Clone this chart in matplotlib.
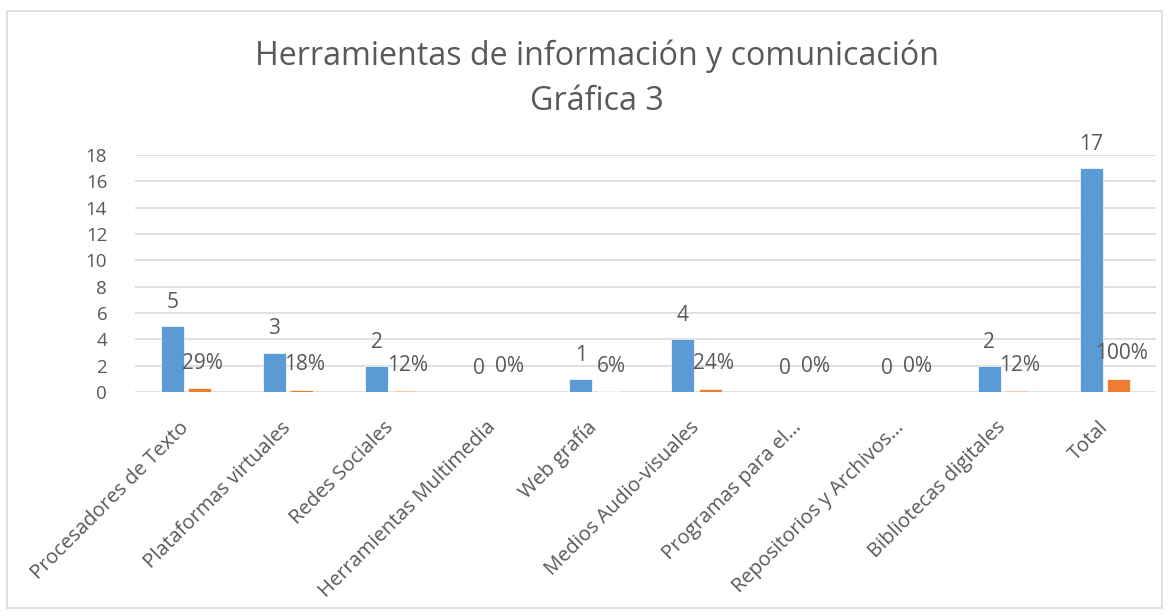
import matplotlib.pyplot as plt
from matplotlib.patches import Rectangle
import numpy as np

categories = ["Procesadores de Texto", "Plataformas virtuales", "Redes Sociales",
              "Herramientas Multimedia", "Web grafía", "Medios Audio-visuales",
              "Programas para el…", "Repositorios y Archivos…",
              "Bibliotecas digitales", "Total"]
counts = [5, 3, 2, 0, 1, 4, 0, 0, 2, 17]
shares = [0.29, 0.18, 0.12, 0.0, 0.06, 0.24, 0.0, 0.0, 0.12, 1.0]
share_labels = ["29%", "18%", "12%", "0%", "6%", "24%", "0%", "0%", "12%", "100%"]

blue = "#5B9BD5"
orange = "#ED7D31"
light_orange = "#F8CBAD"
share_colors = [orange, orange, light_orange, orange, light_orange, orange,
                orange, orange, light_orange, orange]
text_col = "#595959"

plt.rcParams['font.family'] = ['Open Sans', 'DejaVu Sans']

fig = plt.figure(figsize=(11.72, 6.16), dpi=100)
fig.patches.append(Rectangle((7 / 1172, 8 / 616), 1155 / 1172, 597 / 616,
                             transform=fig.transFigure, fill=False,
                             edgecolor="#d9d9d9", linewidth=1.2))
ax = fig.add_axes([135 / 1172, (616 - 392) / 616, 1021 / 1172, 237 / 616])

x = np.arange(len(categories))
w = 0.225
b1 = ax.bar(x - 0.135, counts, w, color=blue, edgecolor="white", linewidth=0.5, zorder=3)
b2 = ax.bar(x + 0.135, shares, w, color=share_colors, edgecolor="white", linewidth=0.5, zorder=3)

for rect, v in zip(b1, counts):
    ax.annotate(str(v), (rect.get_x() + rect.get_width() / 2, rect.get_height()),
                xytext=(0, 17), textcoords="offset points", ha="center", va="center",
                fontsize=15, color=text_col)
for rect, lab in zip(b2, share_labels):
    ax.annotate(lab, (rect.get_x() + rect.get_width() / 2 + 0.03, rect.get_height()),
                xytext=(0, 18), textcoords="offset points", ha="center", va="center",
                fontsize=15, color=text_col)

ax.set_xlim(-0.5, len(categories) - 0.5)
ax.set_ylim(0, 18)
ax.set_yticks(range(0, 19, 2))
ax.yaxis.grid(True, color="#d9d9d9", linewidth=1.2, zorder=0)
ax.set_axisbelow(True)
for s in ax.spines.values():
    s.set_visible(False)
ax.tick_params(axis="both", length=0, colors=text_col, labelsize=13.5)
ax.tick_params(axis="y", pad=20)
ax.set_xticks(x)
ax.set_xticklabels(categories, rotation=45, ha="right", va="center",
                   rotation_mode="anchor", fontsize=14.5)
ax.tick_params(axis="x", pad=23.5)

fig.text(0.5 * (253 + 940) / 1172, 1 - 56 / 616, "Herramientas de información y comunicación",
         ha="center", va="center", fontsize=23.2, color=text_col)
fig.text(0.5 * (253 + 940) / 1172, 1 - 101 / 616, "Gráfica 3",
         ha="center", va="center", fontsize=23.2, color=text_col)

fig.savefig("out.png", dpi=100)
